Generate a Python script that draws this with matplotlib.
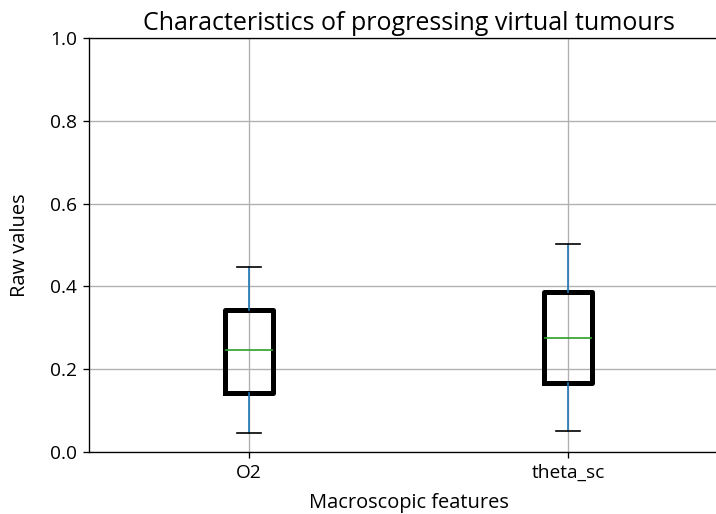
import matplotlib
matplotlib.use("Agg")
import matplotlib.pyplot as plt

plt.rcParams["font.family"] = ["Open Sans", "DejaVu Sans"]

categories = ["O2", "theta_sc"]
whisker_low = [0.046, 0.051]
q1 = [0.142, 0.167]
median = [0.246, 0.275]
q3 = [0.343, 0.386]
whisker_high = [0.447, 0.502]

stats = []
for lab, wl, a, m, b, wh in zip(categories, whisker_low, q1, median, q3, whisker_high):
    stats.append(dict(label=lab, whislo=wl, q1=a, med=m, q3=b, whishi=wh, fliers=[]))

fig = plt.figure(figsize=(716 / 120, 514 / 120), dpi=120)
ax = fig.add_axes([89 / 716, 62 / 514, (728 - 89) / 716, (452 - 38) / 514])

ax.bxp(stats, positions=[1, 2], widths=0.15,
       boxprops=dict(color="black", linewidth=3.0),
       whiskerprops=dict(color="C0", linewidth=1.0),
       capprops=dict(color="black", linewidth=1.0),
       medianprops=dict(color="C2", linewidth=1.0),
       showfliers=False)

ax.set_xlim(0.5, 2.5)
ax.set_ylim(0, 1.0)
ax.grid(True)
ax.set_axisbelow(True)
ax.tick_params(labelsize=11.5)
ax.set_title("Characteristics of progressing virtual tumours", fontsize=15, pad=5)
ax.set_xlabel("Macroscopic features", fontsize=12, labelpad=7)
ax.set_ylabel("Raw values", fontsize=12, labelpad=12)

fig.savefig("out.png", dpi=120)
